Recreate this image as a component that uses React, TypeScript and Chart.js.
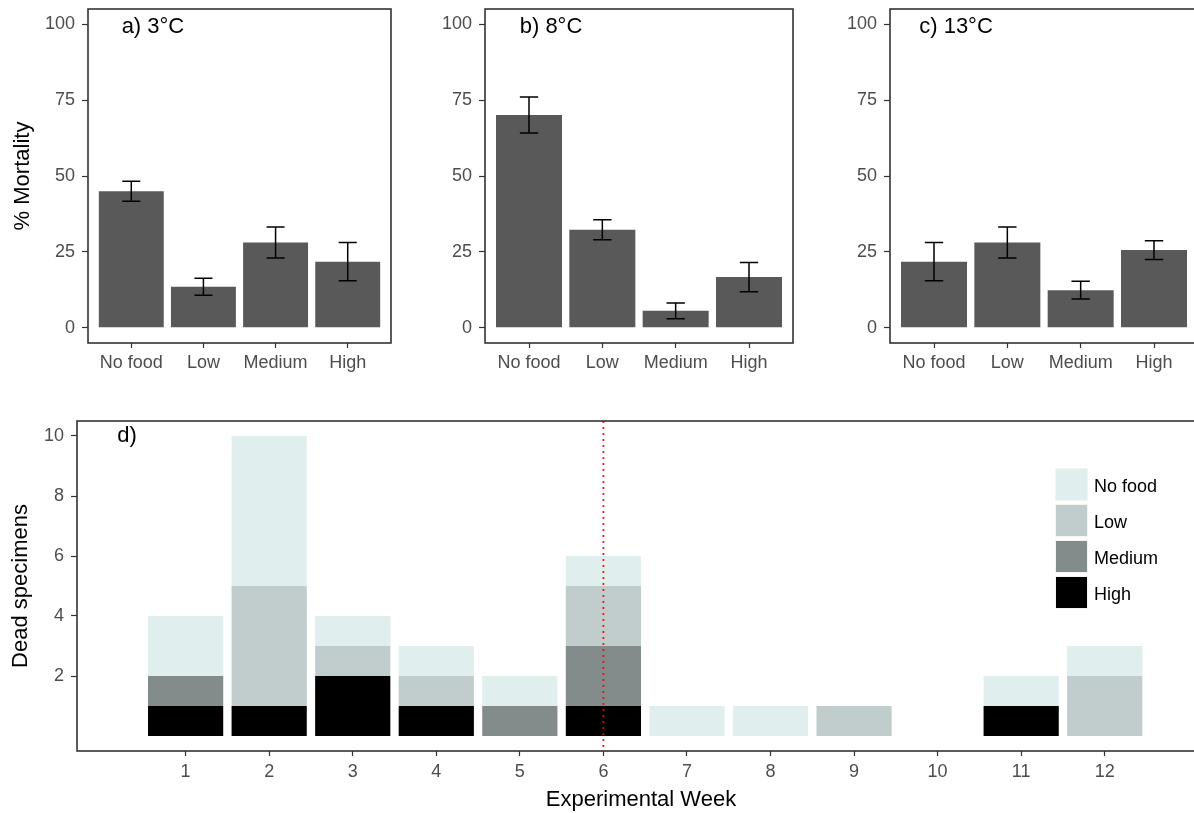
import React, { useEffect, useRef } from "react";
import { Chart, registerables } from "chart.js";
Chart.register(...registerables);

// ---------- data ----------
const foodLevels = ["No food", "Low", "Medium", "High"];
const levelPositions = [1, 2, 3, 4];

const mortality3C = [45.0, 13.5, 28.1, 21.8];
const error3C = [3.3, 2.8, 5.1, 6.3];
const mortality8C = [70.1, 32.3, 5.6, 16.7];
const error8C = [5.9, 3.3, 2.6, 4.8];
const mortality13C = [21.8, 28.1, 12.4, 25.6];
const error13C = [6.3, 5.1, 2.9, 3.1];
const mortalityTicks = [0, 25, 50, 75, 100];

const weeks = [1, 2, 3, 4, 5, 6, 7, 8, 9, 10, 11, 12];
const deadHigh = [1, 1, 2, 1, 0, 1, 0, 0, 0, 0, 1, 0];
const deadMedium = [1, 0, 0, 0, 1, 2, 0, 0, 0, 0, 0, 0];
const deadLow = [0, 4, 1, 1, 0, 2, 0, 0, 1, 0, 0, 2];
const deadNoFood = [2, 5, 1, 1, 1, 1, 1, 1, 0, 0, 1, 1];
const deadTicks = [2, 4, 6, 8, 10];
const refWeek = 6;

const seriesNames = ["No food", "Low", "Medium", "High"];
const seriesColors = ["#E0EEEE", "#C1CDCD", "#838B8B", "#000000"];

// ---------- styling ----------
const FONT = "'Liberation Sans', Arial, Helvetica, sans-serif";
const TICK_COLOR = "#4D4D4D";

const framePlugin = {
  id: "frame",
  afterDraw(chart: any) {
    const { ctx, chartArea: a } = chart;
    ctx.save();
    ctx.strokeStyle = "#333333";
    ctx.lineWidth = 1.6;
    ctx.strokeRect(a.left, a.top, a.right - a.left, a.bottom - a.top);
    ctx.restore();
  },
};

const errorBarPlugin = {
  id: "errorBars",
  afterDatasetsDraw(chart: any, _args: any, opts: any) {
    if (!opts || !opts.errors) return;
    const { ctx } = chart;
    const xs = chart.scales.x;
    const ys = chart.scales.y;
    const data = chart.data.datasets[0].data;
    ctx.save();
    ctx.strokeStyle = "#000";
    ctx.lineWidth = 1.5;
    data.forEach((p: any, i: number) => {
      const e = opts.errors[i];
      const x = xs.getPixelForValue(p.x);
      const hw = xs.getPixelForValue(p.x + opts.capWidth / 2) - x;
      const yt = ys.getPixelForValue(p.y + e);
      const yb = ys.getPixelForValue(p.y - e);
      ctx.beginPath();
      ctx.moveTo(x, yt);
      ctx.lineTo(x, yb);
      ctx.moveTo(x - hw, yt);
      ctx.lineTo(x + hw, yt);
      ctx.moveTo(x - hw, yb);
      ctx.lineTo(x + hw, yb);
      ctx.stroke();
    });
    ctx.restore();
  },
};

const panelLabelPlugin = {
  id: "panelLabel",
  afterDatasetsDraw(chart: any, _args: any, opts: any) {
    if (!opts || !opts.text) return;
    const { ctx } = chart;
    const x = chart.scales.x.getPixelForValue(opts.x);
    const y = chart.scales.y.getPixelForValue(opts.y);
    ctx.save();
    ctx.font = `22px ${FONT}`;
    ctx.fillStyle = "#000";
    ctx.textAlign = "center";
    ctx.textBaseline = "middle";
    ctx.fillText(opts.text, x, y);
    ctx.restore();
  },
};

const refLinePlugin = {
  id: "refLine",
  afterDatasetsDraw(chart: any, _args: any, opts: any) {
    if (!opts || opts.x === undefined) return;
    const { ctx, chartArea: a } = chart;
    const x = chart.scales.x.getPixelForValue(opts.x);
    ctx.save();
    ctx.strokeStyle = "rgba(255,0,0,0.9)";
    ctx.lineWidth = 1.8;
    ctx.setLineDash([2, 4]);
    ctx.beginPath();
    ctx.moveTo(x, a.top);
    ctx.lineTo(x, a.bottom);
    ctx.stroke();
    ctx.restore();
  },
};

const noScalePadding = (s: any) => {
  s.paddingTop = 0;
  s.paddingBottom = 0;
  s.paddingLeft = 0;
  s.paddingRight = 0;
};

function topConfig(values: number[], errors: number[], label: string, showTitle: boolean, axisWidth: number, padRight: number) {
  return {
    type: "bar",
    data: {
      datasets: [
        {
          data: levelPositions.map((x, i) => ({ x, y: values[i] })),
          backgroundColor: "#595959",
          borderWidth: 0,
          barPercentage: 0.9,
          categoryPercentage: 1,
        },
      ],
    },
    options: {
      animation: false,
      responsive: false,
      devicePixelRatio: 1,
      layout: { padding: { top: 9, right: padRight, left: 0, bottom: 0 } },
      plugins: {
        legend: { display: false },
        tooltip: { enabled: false },
        errorBars: { errors, capWidth: 0.25 },
        panelLabel: { text: label, x: 1.3, y: 99 },
      },
      scales: {
        x: {
          type: "linear",
          min: 0.4,
          max: 4.6,
          offset: false,
          afterBuildTicks: (s: any) => {
            s.ticks = levelPositions.map((v) => ({ value: v }));
          },
          afterFit: (s: any) => {
            s.height = 57;
            noScalePadding(s);
          },
          ticks: {
            autoSkip: false,
            maxRotation: 0,
            padding: 4,
            color: TICK_COLOR,
            font: { family: FONT, size: 18 },
            callback: (_v: any, i: number) => foodLevels[i],
          },
          grid: { offset: false, drawOnChartArea: false, tickLength: 5, tickColor: "#333", tickWidth: 1.2 },
          border: { display: false },
        },
        y: {
          type: "linear",
          min: -5,
          max: 105,
          afterBuildTicks: (s: any) => {
            s.ticks = mortalityTicks.map((v) => ({ value: v }));
          },
          afterFit: (s: any) => {
            s.width = axisWidth;
            noScalePadding(s);
          },
          ticks: { padding: 7, color: TICK_COLOR, font: { family: FONT, size: 18 } },
          grid: { drawOnChartArea: false, tickLength: 6, tickColor: "#333", tickWidth: 1.2 },
          border: { display: false },
          title: {
            display: showTitle,
            text: "% Mortality",
            color: "#000",
            font: { family: FONT, size: 22 },
            padding: { top: 10, bottom: 0 },
          },
        },
      },
    },
    plugins: [framePlugin, errorBarPlugin, panelLabelPlugin],
  };
}

function bottomConfig() {
  const stackSeries = [deadHigh, deadMedium, deadLow, deadNoFood];
  const stackColors = [seriesColors[3], seriesColors[2], seriesColors[1], seriesColors[0]];
  const stackNames = [seriesNames[3], seriesNames[2], seriesNames[1], seriesNames[0]];
  return {
    type: "bar",
    data: {
      datasets: stackSeries.map((arr, k) => ({
        label: stackNames[k],
        data: weeks.map((w, i) => ({ x: w, y: arr[i] })),
        backgroundColor: stackColors[k],
        borderWidth: 0,
        barPercentage: 0.9,
        categoryPercentage: 1,
      })),
    },
    options: {
      animation: false,
      responsive: false,
      devicePixelRatio: 1,
      layout: { padding: { top: 21, right: 10, left: 0, bottom: 0 } },
      plugins: {
        legend: { display: false },
        tooltip: { enabled: false },
        panelLabel: { text: "d)", x: 0.3, y: 10 },
        refLine: { x: refWeek },
      },
      scales: {
        x: {
          type: "linear",
          stacked: true,
          min: -0.3,
          max: 13.2,
          offset: false,
          afterBuildTicks: (s: any) => {
            s.ticks = weeks.map((v) => ({ value: v }));
          },
          afterFit: (s: any) => {
            s.height = 62;
            noScalePadding(s);
          },
          ticks: {
            autoSkip: false,
            maxRotation: 0,
            padding: 5,
            color: TICK_COLOR,
            font: { family: FONT, size: 18 },
          },
          grid: { offset: false, drawOnChartArea: false, tickLength: 5, tickColor: "#333", tickWidth: 1.2 },
          border: { display: false },
          title: {
            display: true,
            text: "Experimental Week",
            color: "#000",
            font: { family: FONT, size: 22 },
            padding: { top: 0, bottom: 0 },
          },
        },
        y: {
          type: "linear",
          stacked: true,
          min: -0.5,
          max: 10.5,
          afterBuildTicks: (s: any) => {
            s.ticks = deadTicks.map((v) => ({ value: v }));
          },
          afterFit: (s: any) => {
            s.width = 77;
            noScalePadding(s);
          },
          ticks: { padding: 7, color: TICK_COLOR, font: { family: FONT, size: 18 } },
          grid: { drawOnChartArea: false, tickLength: 6, tickColor: "#333", tickWidth: 1.2 },
          border: { display: false },
          title: {
            display: true,
            text: "Dead specimens",
            color: "#000",
            font: { family: FONT, size: 22 },
            padding: { top: 8, bottom: 0 },
          },
        },
      },
    },
    plugins: [framePlugin, panelLabelPlugin, refLinePlugin],
  };
}

function ChartCanvas({ config, left, top, width, height }: any) {
  const ref = useRef<HTMLCanvasElement | null>(null);
  useEffect(() => {
    if (!ref.current) return;
    const chart = new Chart(ref.current, config());
    return () => chart.destroy();
  }, []);
  return (
    <div style={{ position: "absolute", left, top, width, height }}>
      <canvas ref={ref} width={width} height={height} style={{ width, height, display: "block" }} />
    </div>
  );
}

export default function App() {
  return (
    <div
      style={{
        position: "absolute",
        left: 0,
        top: 0,
        width: 1194,
        height: 813,
        overflow: "hidden",
        background: "#fff",
        fontFamily: FONT,
      }}
    >
      <ChartCanvas config={() => topConfig(mortality3C, error3C, "a) 3°C", true, 88, 9)} left={0} top={0} width={400} height={400} />
      <ChartCanvas config={() => topConfig(mortality8C, error8C, "b) 8°C", false, 85, 7)} left={400} top={0} width={400} height={400} />
      <ChartCanvas config={() => topConfig(mortality13C, error13C, "c) 13°C", false, 90, 12)} left={800} top={0} width={410} height={400} />
      <ChartCanvas config={bottomConfig} left={0} top={400} width={1215} height={413} />
      <div style={{ position: "absolute", left: 1055, top: 468 }}>
        {seriesNames.map((name, i) => (
          <div key={name} style={{ display: "flex", alignItems: "center", height: 33, marginBottom: 3 }}>
            <div style={{ width: 33, height: 33, background: seriesColors[i], boxSizing: "border-box", border: "1px solid #f4f4f4" }} />
            <span style={{ marginLeft: 6, marginTop: 3, fontSize: 18, color: "#000" }}>{name}</span>
          </div>
        ))}
      </div>
    </div>
  );
}
